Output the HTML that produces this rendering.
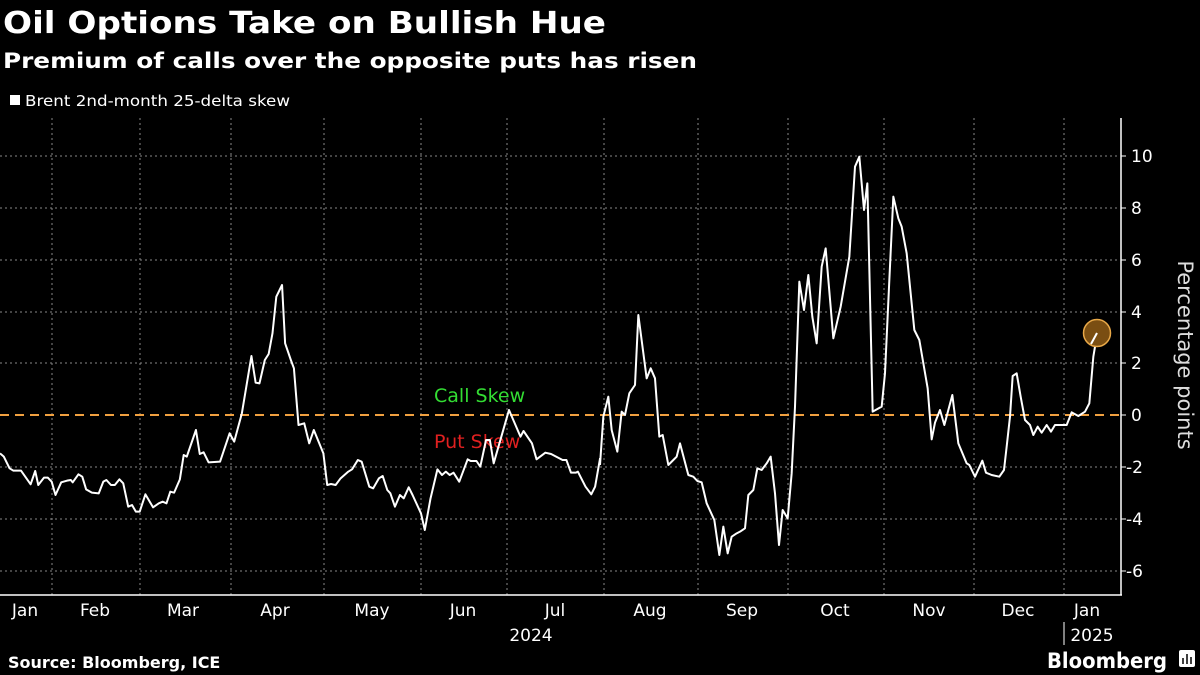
<!DOCTYPE html>
<html><head><meta charset="utf-8"><style>
html,body{margin:0;padding:0;background:#000;}
svg{display:block}
text{font-family:"DejaVu Sans","Liberation Sans",sans-serif;}
</style></head><body>
<svg width="1200" height="675" viewBox="0 0 1200 675" xmlns="http://www.w3.org/2000/svg">
<rect width="1200" height="675" fill="#000"/>
<text x="3" y="33" font-size="30" font-weight="bold" fill="#fff" textLength="603" lengthAdjust="spacingAndGlyphs">Oil Options Take on Bullish Hue</text>
<text x="3" y="68" font-size="21" font-weight="bold" fill="#fff" textLength="694" lengthAdjust="spacingAndGlyphs">Premium of calls over the opposite puts has risen</text>
<rect x="10" y="95" width="10" height="10" fill="#fff"/>
<text x="25" y="106" font-size="15" fill="#fff" textLength="265" lengthAdjust="spacingAndGlyphs">Brent 2nd-month 25-delta skew</text>
<g stroke="#888" stroke-width="1" stroke-dasharray="2,3">
<line x1="0" y1="156" x2="1120" y2="156"/><line x1="0" y1="208" x2="1120" y2="208"/><line x1="0" y1="260" x2="1120" y2="260"/><line x1="0" y1="312" x2="1120" y2="312"/><line x1="0" y1="363" x2="1120" y2="363"/><line x1="0" y1="467" x2="1120" y2="467"/><line x1="0" y1="519" x2="1120" y2="519"/><line x1="0" y1="571" x2="1120" y2="571"/>
<line x1="52" y1="118" x2="52" y2="595"/><line x1="140" y1="118" x2="140" y2="595"/><line x1="231" y1="118" x2="231" y2="595"/><line x1="324" y1="118" x2="324" y2="595"/><line x1="421" y1="118" x2="421" y2="595"/><line x1="507" y1="118" x2="507" y2="595"/><line x1="604" y1="118" x2="604" y2="595"/><line x1="698" y1="118" x2="698" y2="595"/><line x1="788" y1="118" x2="788" y2="595"/><line x1="884" y1="118" x2="884" y2="595"/><line x1="974" y1="118" x2="974" y2="595"/><line x1="1064" y1="118" x2="1064" y2="595"/>
</g>
<g stroke="#fff" stroke-width="1.5">
<line x1="0" y1="595" x2="1122" y2="595"/><line x1="1121" y1="118" x2="1121" y2="595"/>
<line x1="1064" y1="622" x2="1064" y2="645" stroke-width="1"/>
</g>
<g stroke="#fff" stroke-width="1">
<line x1="1121" y1="156" x2="1126" y2="156"/><line x1="1121" y1="208" x2="1126" y2="208"/><line x1="1121" y1="260" x2="1126" y2="260"/><line x1="1121" y1="312" x2="1126" y2="312"/><line x1="1121" y1="363" x2="1126" y2="363"/><line x1="1121" y1="415" x2="1126" y2="415"/><line x1="1121" y1="467" x2="1126" y2="467"/><line x1="1121" y1="519" x2="1126" y2="519"/><line x1="1121" y1="571" x2="1126" y2="571"/>
</g>
<g font-size="17" fill="#fff">
<text x="1131" y="162">10</text><text x="1131" y="214">8</text><text x="1131" y="266">6</text><text x="1131" y="318">4</text><text x="1131" y="369">2</text><text x="1131" y="421">0</text><text x="1126" y="473">-2</text><text x="1126" y="525">-4</text><text x="1126" y="577">-6</text>
</g>
<g font-size="17" fill="#fff" text-anchor="middle">
<text x="25" y="616">Jan</text><text x="95" y="616">Feb</text><text x="183" y="616">Mar</text><text x="275" y="616">Apr</text><text x="372" y="616">May</text><text x="463" y="616">Jun</text><text x="555" y="616">Jul</text><text x="650" y="616">Aug</text><text x="742" y="616">Sep</text><text x="835" y="616">Oct</text><text x="929" y="616">Nov</text><text x="1018" y="616">Dec</text><text x="1087" y="616">Jan</text>
<text x="531" y="641">2024</text><text x="1092" y="641">2025</text>
</g>
<text transform="translate(1178,355) rotate(90)" font-size="21" fill="#ddd" text-anchor="middle">Percentage points</text>
<line x1="0" y1="415" x2="1120" y2="415" stroke="#f0a040" stroke-width="2" stroke-dasharray="9,6"/>
<text x="434" y="402" font-size="19" fill="#33dd33" font-family="Liberation Sans, sans-serif">Call Skew</text>
<text x="434" y="448" font-size="19" fill="#e02020" font-family="Liberation Sans, sans-serif">Put Skew</text>
<g fill="none" stroke="#fff" stroke-width="2" stroke-linejoin="round">
<polyline vector-effect="non-scaling-stroke" transform="translate(0,250) scale(0.3827,0.3333333)" points="0,610 10,620 25,655 35,662 55,662 80,703 92,663 100,705 115,683 125,683 135,695 145,735 160,697 175,692 185,690 190,697 205,673 215,680 225,718 240,728 258,730 270,695 278,690 290,705 300,705 312,688 322,700 335,770 345,765 355,785 365,785 380,733 400,772 415,760 425,755 435,760 445,725 455,728 470,688 480,615 488,620 512,540 522,612 532,607 545,637 575,635 600,550 612,575 632,490 657,318 668,398 678,400 692,330 702,312 712,250 722,140 737,105 745,280 760,330 768,355 780,525 795,520 808,580 820,540 845,610 855,705 865,702 877,705 890,685 910,665 920,658 935,630 945,635 965,710 975,715 990,685 1000,678 1012,720 1020,730 1032,770 1045,735 1055,745 1068,712 1078,735 1100,790 1110,840 1125,745 1143,658 1155,675 1165,665 1175,675 1185,668 1200,695 1222,628 1230,633 1245,633 1255,650 1270,570 1280,570 1290,640 1330,480 1360,560 1368,543 1390,580 1402,628 1425,608 1440,612 1470,630 1480,630 1492,668 1505,668 1510,665 1530,710 1545,733 1555,710 1568,625"/>
<polyline points="600,458 600,465"/>
<polyline vector-effect="non-scaling-stroke" transform="translate(600,140) scale(0.3333333)" points="0,975 10,830 25,770 35,870 52,935 65,815 75,825 88,760 105,735 115,525 140,715 152,685 165,715 178,890 188,885 205,975 220,960 230,950 240,910 265,1005 280,1010 292,1023 305,1027 320,1090 343,1140 358,1245 370,1160 383,1240 395,1190 410,1180 420,1175 435,1165 445,1065 460,1050 472,985 485,990 500,970 512,950 525,1060 537,1215 548,1110 563,1135 575,1000 585,800 598,425 612,510 625,405 637,530 650,610 665,380 677,325 700,595 722,500 748,350 765,80 778,50 792,210 802,130 818,815 845,800 855,700 868,420 880,170 895,235 905,260 920,340 943,570 958,600 983,745 995,898 1005,848 1020,810 1033,855 1057,765 1075,910 1100,970 1108,975 1125,1010 1147,962 1158,998 1175,1005 1198,1010 1212,990 1220,920 1230,830 1238,708 1250,700 1262,770 1275,840 1290,855 1300,885 1313,860 1325,878 1340,855 1353,875 1365,855 1380,855 1400,855 1415,817 1435,828 1455,815 1468,790 1480,650 1492,578"/>
</g>
<circle cx="1097" cy="333" r="13.5" fill="#7a4e12" stroke="#e8a848" stroke-width="1.5"/>
<line x1="1091" y1="344" x2="1097" y2="333" stroke="#fff" stroke-width="2"/>
<text x="8" y="668" font-size="16" font-weight="bold" fill="#fff">Source: Bloomberg, ICE</text>
<text x="1047" y="668" font-size="21" font-weight="bold" fill="#fff" textLength="120" lengthAdjust="spacingAndGlyphs">Bloomberg</text>
<rect x="1179" y="650" width="16" height="17" rx="2" fill="#fff"/>
<g stroke="#000" stroke-width="1.5"><line x1="1183" y1="664" x2="1183" y2="658"/><line x1="1187" y1="664" x2="1187" y2="654"/><line x1="1191" y1="664" x2="1191" y2="657"/></g>
</svg>
</body></html>
